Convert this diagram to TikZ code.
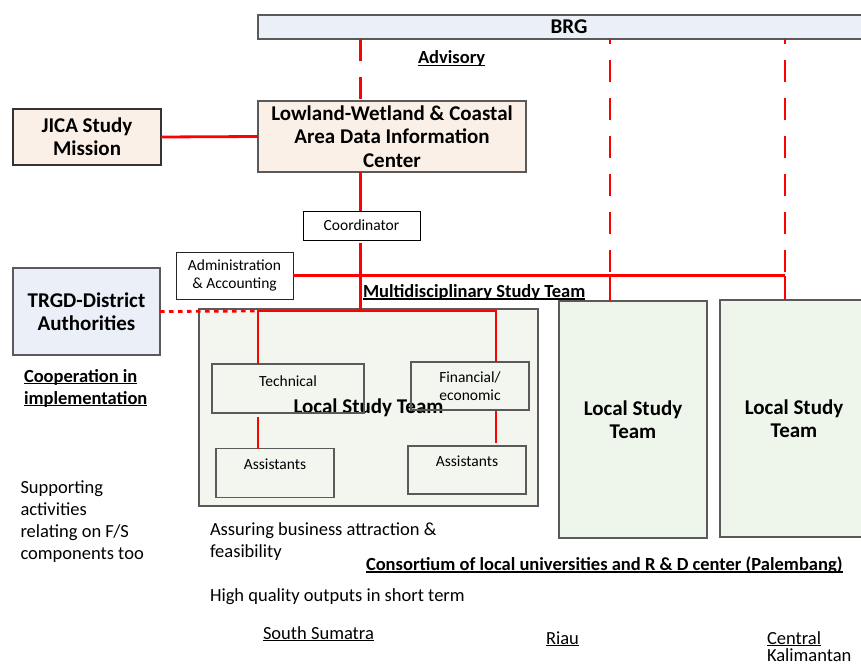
\documentclass[tikz,border=0pt]{standalone}
\usepackage{fontspec}
\setmainfont{Carlito}
\definecolor{peach}{HTML}{FBF0E7}
\definecolor{paleblue}{HTML}{EAEFF8}
\definecolor{palegreen}{HTML}{EEF5EA}
\definecolor{palegreenB}{HTML}{F2F6EF}
\definecolor{edge}{HTML}{5A5A5A}
\definecolor{linkred}{HTML}{FF0000}
% underline drawn just under the baseline, through descenders
\newcommand\undl[1]{\setbox0\hbox{#1}\rlap{\rule[-2pt]{\wd0}{1.1pt}}\box0}
\begin{document}
\begin{tikzpicture}[x=1pt,y=-1pt,
  every node/.style={inner sep=0pt, outer sep=0pt},
  box/.style={draw=edge, line width=1.3pt, rectangle},
  head/.style={font=\fontsize{21}{23.4}\selectfont\bfseries, align=center},
  lab/.style={font=\fontsize{18.5}{22}\selectfont\bfseries, anchor=base west},
  body/.style={font=\fontsize{18.5}{22}\selectfont, anchor=base west},
  small/.style={font=\fontsize{15.5}{18.5}\selectfont},
  link/.style={draw=linkred, line width=2.8pt},
  advise/.style={link, dash pattern=on 22pt off 16pt},
  coop/.style={link, dash pattern=on 4.5pt off 4.5pt},
]
\useasboundingbox (0,0) rectangle (861,666);

% --- boxes ---
\node[box, fill=paleblue, minimum width=622, minimum height=24, head] (brg) at (569,27) {BRG};
\node[box, fill=peach, minimum width=268, minimum height=71, head] (lw) at (392,136.5)
  {Lowland-Wetland \& Coastal\\Area Data Information\\Center};
\node[box, draw=black!80, fill=peach, minimum width=148, minimum height=56, head] (jica) at (87,137)
  {JICA Study\\Mission};
\node[box, draw=black, line width=1pt, fill=white, minimum width=117, minimum height=29, small] (coord) at (361.5,225.5)
  {Coordinator};
\node[box, draw=black!85, line width=1pt, fill=white, minimum width=117, minimum height=47, small, align=center] (admin) at (234.5,275.5)
  {Administration\\\& Accounting};
\node[box, fill=paleblue, minimum width=147, minimum height=87, head] (trgd) at (86.5,311.5)
  {TRGD-District\\Authorities};

\node[box, fill=palegreenB, minimum width=339, minimum height=197, head] (lst1) at (368.5,407.5) {Local Study Team};
\node[box, fill=palegreen, minimum width=148, minimum height=237, head] (lst2) at (633,419.5) {Local Study\\Team};
\node[box, fill=palegreen, minimum width=148, minimum height=237, head] (lst3) at (794,418.5) {Local Study\\Team};

% inner boxes of the South Sumatra team
\node[box, minimum width=152, minimum height=49] (tech) at (288,388.5) {};
\node[small, anchor=base] (techtxt) at (288,386) {Technical};
\node[box, minimum width=118, minimum height=48, small, align=center] (fin) at (470,386) {Financial/\\economic};
\node[box, minimum width=118, minimum height=49] (astL) at (275,473) {};
\node[small, anchor=base] (astLtxt) at (275,469) {Assistants};
\node[box, minimum width=118, minimum height=48] (astR) at (467,470) {};
\node[small, anchor=base] (astRtxt) at (467,466.7) {Assistants};

% --- labels ---
\node[lab] (adv) at (418,64) {\undl{Advisory}};
\node[lab] (mst) at (363,297.5) {\undl{Multidisciplinary Study Team}};
\node[lab] (coop1) at (24,382) {\undl{Cooperation in}};
\node[lab] (coop2) at (24,404) {\undl{implementation}};
\node[body] (sup1) at (20.5,493) {Supporting};
\node[body] (sup2) at (20.5,515) {activities};
\node[body] (sup3) at (20.5,537) {relating on F/S};
\node[body] (sup4) at (20.5,559) {components too};
\node[body] (as1) at (210,535) {Assuring business attraction \&};
\node[body] (as2) at (210,557) {feasibility};
\node[lab] (cons) at (366,570.5) {\undl{Consortium of local universities and R \& D center (Palembang)}};
\node[body] (hq) at (210,601) {High quality outputs in short term};
\node[body] (ss) at (263,639) {\undl{South Sumatra}};
\node[body] (ri) at (546,644) {\undl{Riau}};
\node[body] (ce) at (767,644) {\undl{Central}};
\node[body] (ka) at (767,661) {Kalimantan};

% --- connectors ---
\coordinate (spine) at (360.5,0);
\coordinate (bus) at (360.5,311);
\coordinate (t2) at (610,276);
\coordinate (t3) at (785,276);
\coordinate (busL) at (258,311);
\coordinate (busR) at (496,311);
\path (coord.south -| spine) ++(0,3) coordinate (cs);
\path (busL |- tech.south) ++(0,4) coordinate (tl1);
\path (busR |- fin.south) ++(0,1) coordinate (tr1);
\path (busR |- astR.north) ++(0,-3) coordinate (tr2);

\draw[advise] (brg.south -| spine) -- (lw.north -| spine);
\draw[link] (jica.east) -- (lw.west);
\draw[link] (lw.south -| spine) -- (coord.north -| spine);
\draw[link] (cs) -- (bus);
\draw[link] (admin.east) -- (admin.east -| t3);
\draw[advise, dash phase=17pt] (brg.south -| t2) -- (t2);
\draw[link] (t2) -- (t2 |- lst2.north);
\draw[advise, dash phase=17pt] (brg.south -| t3) -- (t3);
\draw[link] (t3) -- (t3 |- lst3.north);
\draw[link] (busL |- tech.north) -- (busL) -- (busR) -- (busR |- fin.north);
\draw[link] (tl1) -- (busL |- astL.north);
\draw[link] (tr1) -- (tr2);
\draw[coop] (trgd.east) -- (busL);
\end{tikzpicture}
\end{document}
